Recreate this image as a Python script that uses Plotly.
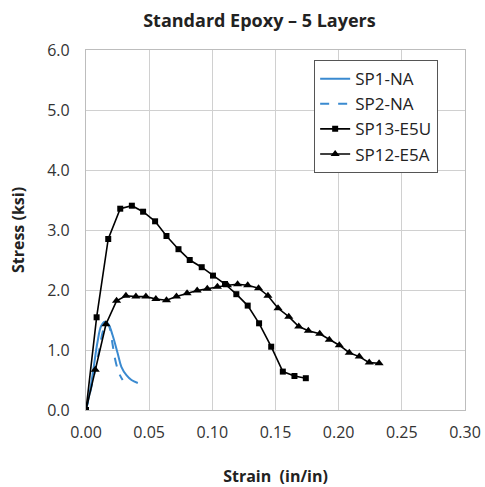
import plotly.graph_objects as go

# Stress-strain data, strain in in/in, stress in ksi
sp1_strain = [0.0, 0.003, 0.006, 0.009, 0.012, 0.015, 0.018, 0.021, 0.025, 0.028, 0.032, 0.036, 0.041]
sp1_stress = [0.0, 0.30, 0.70, 1.12, 1.40, 1.47, 1.42, 1.25, 0.95, 0.72, 0.58, 0.50, 0.45]

sp2_strain = [0.0, 0.005, 0.010, 0.014, 0.017, 0.019, 0.021, 0.023, 0.026, 0.029]
sp2_stress = [0.0, 0.45, 0.95, 1.35, 1.45, 1.35, 1.10, 0.85, 0.62, 0.50]

sp13_strain = [0.0, 0.0084, 0.0176, 0.0271, 0.0363, 0.0452, 0.0547, 0.0637, 0.0732,
               0.0821, 0.0916, 0.1005, 0.110, 0.119, 0.128, 0.137, 0.1466, 0.1558,
               0.165, 0.174]
sp13_stress = [0.0, 1.545, 2.85, 3.355, 3.405, 3.305, 3.145, 2.90, 2.68,
               2.50, 2.38, 2.24, 2.10, 1.93, 1.74, 1.445, 1.055, 0.64,
               0.567, 0.53]

sp12_strain = [0.0, 0.0073, 0.0158, 0.0242, 0.0316, 0.0395, 0.0474, 0.0553, 0.0637,
               0.0716, 0.080, 0.088, 0.096, 0.104, 0.112, 0.120, 0.128, 0.1366,
               0.144, 0.152, 0.1605, 0.1684, 0.176, 0.185, 0.1926, 0.2005, 0.2084,
               0.2163, 0.2242, 0.232]
sp12_stress = [0.0, 0.67, 1.43, 1.82, 1.905, 1.89, 1.89, 1.85, 1.83,
               1.89, 1.945, 1.99, 2.02, 2.055, 2.08, 2.095, 2.08, 2.03,
               1.905, 1.695, 1.555, 1.39, 1.32, 1.27, 1.17, 1.08, 0.955,
               0.89, 0.79, 0.78]

x_ticks = [0.00, 0.05, 0.10, 0.15, 0.20, 0.25, 0.30]
y_ticks = [0.0, 1.0, 2.0, 3.0, 4.0, 5.0, 6.0]

BLUE = "#3a8ad0"
FONT = "Open Sans"

fig = go.Figure()
fig.add_trace(go.Scatter(x=sp1_strain, y=sp1_stress, name="SP1-NA", mode="lines",
                         line=dict(color=BLUE, width=2, shape="spline")))
fig.add_trace(go.Scatter(x=sp2_strain, y=sp2_stress, name="SP2-NA", mode="lines",
                         line=dict(color=BLUE, width=2, dash="dash", shape="spline")))
fig.add_trace(go.Scatter(x=sp13_strain, y=sp13_stress, name="SP13-E5U", mode="lines+markers",
                         line=dict(color="black", width=1.6),
                         marker=dict(symbol="square", size=6, color="black")))
fig.add_trace(go.Scatter(x=sp12_strain, y=sp12_stress, name="SP12-E5A", mode="lines+markers",
                         line=dict(color="black", width=1.6),
                         marker=dict(symbol="triangle-up", size=8, color="black")))

axis_common = dict(showgrid=True, gridcolor="#d0d0d0", gridwidth=1.3,
                   showline=True, linecolor="#bdbdbd", linewidth=1.3, mirror=True,
                   zeroline=False, ticks="", automargin=False,
                   tickfont=dict(family=FONT, size=16, color="#333333"))

fig.update_xaxes(range=[0, 0.30], tickvals=x_ticks, tickformat=".2f",
                 title=dict(text="<b>Strain  (in/in)</b>", standoff=28,
                            font=dict(family=FONT, size=16, color="#222222")),
                 ticklabelstandoff=8, **axis_common)
fig.update_yaxes(range=[0, 6.0], tickvals=y_ticks, tickformat=".1f",
                 title=dict(text="<b>Stress (ksi)</b>", standoff=18,
                            font=dict(family=FONT, size=16, color="#222222")),
                 ticklabelstandoff=12, **axis_common)

fig.update_layout(
    width=485, height=487,
    margin=dict(l=86, r=20, t=50, b=77),
    paper_bgcolor="white", plot_bgcolor="white",
    title=dict(text="<b>Standard Epoxy – 5 Layers</b>", x=0.535, xanchor="center",
               y=0.958, yanchor="middle",
               font=dict(family=FONT, size=18, color="#222222")),
    showlegend=True,
    legend=dict(x=0.602, y=0.972, xanchor="left", yanchor="top",
                bgcolor="white", bordercolor="#555555", borderwidth=1,
                font=dict(family=FONT, size=17, color="#222222"),
                itemwidth=30, tracegroupgap=0),
)

fig.write_html("out.html")
